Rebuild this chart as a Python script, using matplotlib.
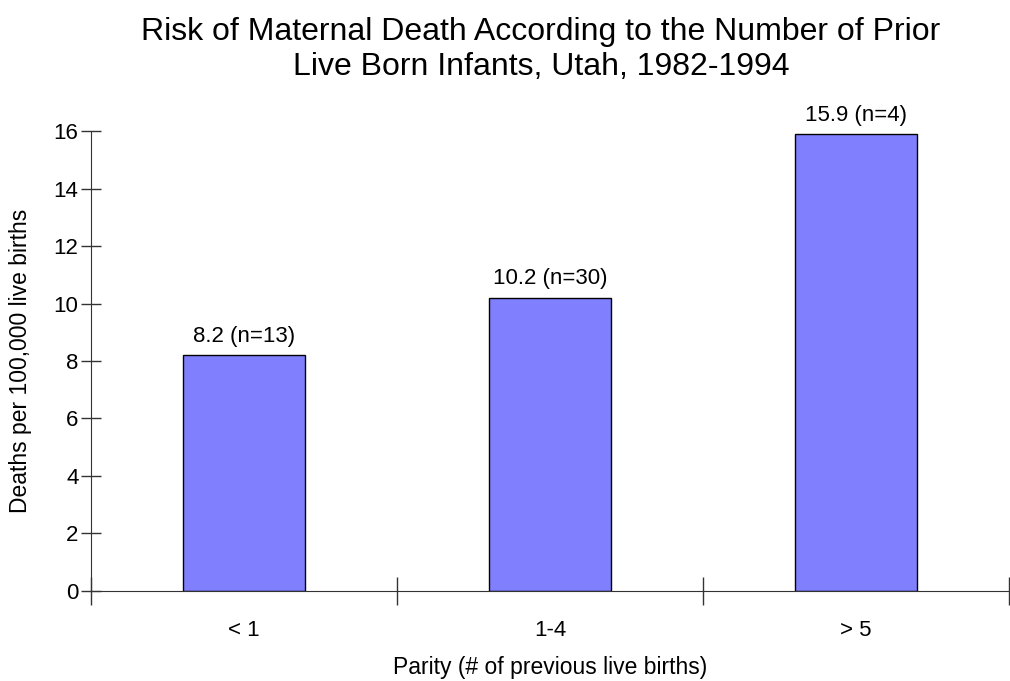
import matplotlib
matplotlib.use("Agg")
import matplotlib.pyplot as plt
from matplotlib.ticker import MultipleLocator, FixedLocator

plt.rcParams['font.family'] = ['Liberation Sans', 'DejaVu Sans']

# Data
categories = ["< 1", "1-4", "> 5"]
rates = [8.2, 10.2, 15.9]
counts = [13, 30, 4]

fig = plt.figure(figsize=(10.10, 6.81), dpi=100)
ax = fig.add_axes([0.090, 0.1322, 0.909, 0.6754])

x = list(range(len(categories)))
ax.bar(x, rates, width=0.4, color="#8080FF", edgecolor="black", linewidth=1.0)

for xi, r, n in zip(x, rates, counts):
    ax.annotate(f"{r} (n={n})", (xi, r), xytext=(0, 6), textcoords="offset points",
                ha="center", va="bottom", fontsize=16)

ax.set_xlim(-0.5, 2.5)
ax.set_ylim(0, 16)
ax.yaxis.set_major_locator(MultipleLocator(2))
ax.set_xticks(x)
ax.set_xticklabels(categories, fontsize=16)
ax.xaxis.set_minor_locator(FixedLocator([-0.5, 0.5, 1.5, 2.5]))
ax.tick_params(axis="x", which="major", length=0, pad=21)
ax.tick_params(axis="x", which="minor", direction="inout", length=20, width=1, color="#333333")
ax.tick_params(axis="y", direction="inout", length=14, width=1, color="#333333", labelsize=16, pad=2)

for s in ["top", "right"]:
    ax.spines[s].set_visible(False)
for s in ["left", "bottom"]:
    ax.spines[s].set_color("#333333")

ax.set_xlabel("Parity (# of previous live births)", fontsize=16.5, va="center")
ax.xaxis.set_label_coords(0.5, -0.167)
ax.set_ylabel("Deaths per 100,000 live births", fontsize=16.5, va="center")
ax.yaxis.set_label_coords(-0.077, 0.5)

fig.text(541 / 1010, 0.975, "Risk of Maternal Death According to the Number of Prior\nLive Born Infants, Utah, 1982-1994",
         ha="center", va="top", fontsize=23, linespacing=1.2)

fig.savefig("out.png", dpi=100)
